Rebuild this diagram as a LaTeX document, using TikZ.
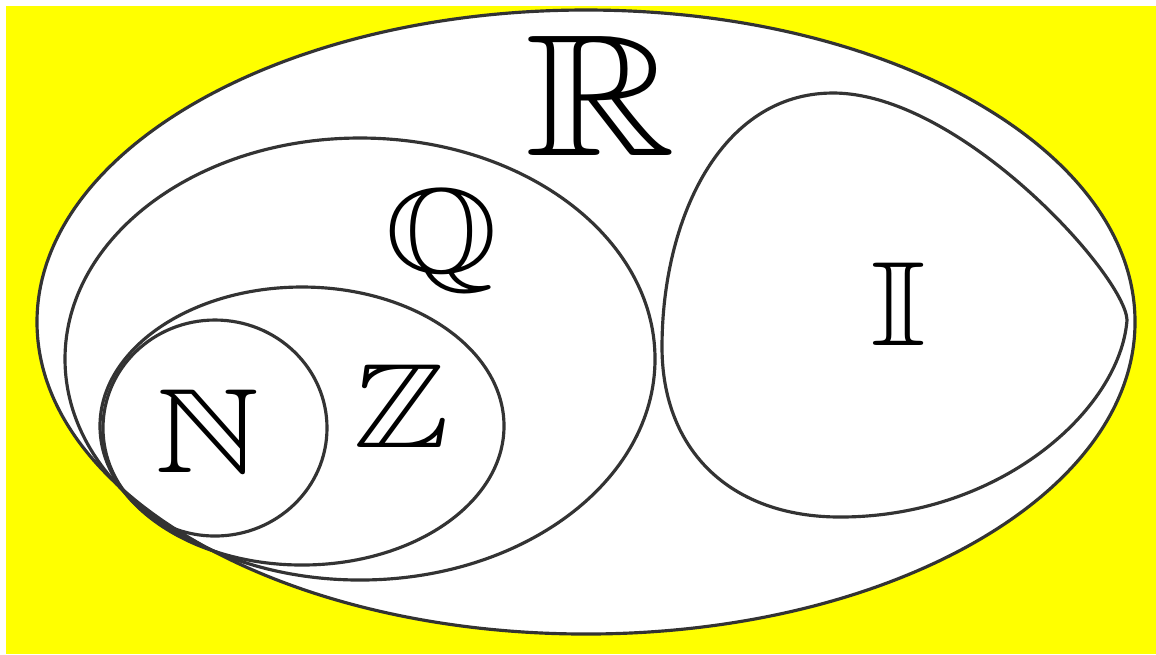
\documentclass[tikz,border=0pt]{standalone}
\usepackage{amsmath, amssymb}
\usepackage{xcolor}
\usepackage{tikz}
\usetikzlibrary{positioning, calc}

\definecolor{bgyellow}{RGB}{255,255,0}
\tikzset{
  setline/.style={draw=black!80, line width=0.9pt},
  setname/.style={inner sep=0pt, anchor=base, xscale=1.2},
}

\begin{document}
\begin{tikzpicture}
    \useasboundingbox (0, 0) rectangle (11.56, -6.54);
    \fill[bgyellow] (0.06, -0.06) rectangle (11.56, -6.54);
    % the real numbers
    \draw[setline, fill=white] (5.86, -3.22) ellipse [x radius=5.49, y radius=3.12];
    % nested sets, all touching the outer one at lower left
    \draw[setline] (3.60, -3.59) ellipse [x radius=2.95, y radius=2.21];
    \draw[setline] (3.02, -4.26) ellipse [x radius=2.02, y radius=1.39];
    \draw[setline] (2.15, -4.28) ellipse [x radius=1.12, y radius=1.08];
    % the irrationals
    \draw[setline] (11.27, -3.20) .. controls (11.25, -2.75) and (9.6, -0.93) .. (8.33, -0.93)
        .. controls (7.2, -0.93) and (6.62, -2.2) .. (6.62, -3.47)
        .. controls (6.62, -4.5) and (7.3, -5.17) .. (8.40, -5.17)
        .. controls (10.0, -5.17) and (11.2, -4.1) .. (11.27, -3.20) -- cycle;
    \node[setname, scale=4.94] (R) at (6.01, -1.55) {$\mathbb{R}$};
    \node[setname, scale=3.42] (Q) at (4.42, -2.72) {$\mathbb{Q}$};
    \node[setname, scale=3.42] (Z) at (4.02, -4.47) {$\mathbb{Z}$};
    \node[setname, scale=3.42] (N) at (2.08, -4.72) {$\mathbb{N}$};
    \node[setname, scale=3.42] (I) at (8.99, -3.45) {$\mathbb{I}$};
\end{tikzpicture}
\end{document}
